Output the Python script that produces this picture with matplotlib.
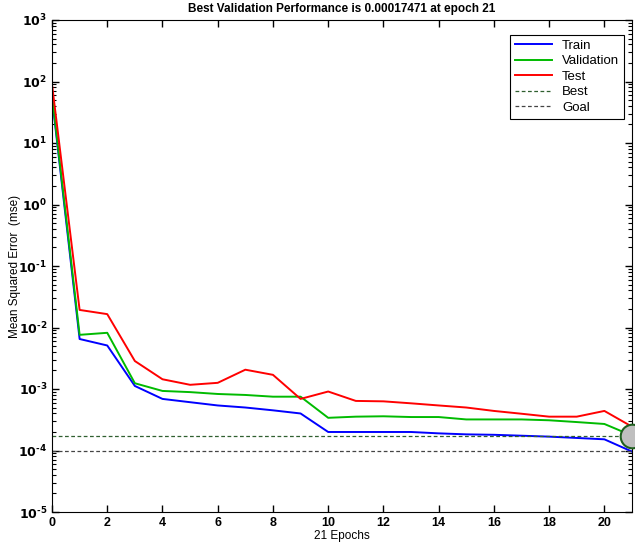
import numpy as np
import matplotlib
matplotlib.use('Agg')
import matplotlib.pyplot as plt
from matplotlib.ticker import LogLocator, NullFormatter, FixedLocator, FuncFormatter

plt.rcParams['font.family'] = ['Liberation Sans', 'DejaVu Sans']

epochs = list(range(22))
train = [55, 6.5e-3, 5.1e-3, 1.12e-3, 6.9e-4, 6.1e-4, 5.4e-4, 5.0e-4, 4.5e-4, 4.0e-4,
         2.0e-4, 2.0e-4, 2.0e-4, 2.0e-4, 1.9e-4, 1.83e-4, 1.8e-4, 1.74e-4, 1.68e-4,
         1.6e-4, 1.52e-4, 9.6e-5]
val = [60, 7.6e-3, 8.2e-3, 1.24e-3, 9.3e-4, 8.9e-4, 8.3e-4, 8.0e-4, 7.5e-4, 7.5e-4,
       3.4e-4, 3.55e-4, 3.6e-4, 3.5e-4, 3.5e-4, 3.2e-4, 3.2e-4, 3.2e-4, 3.1e-4,
       2.9e-4, 2.7e-4, 1.7471e-4]
test = [90, 0.0193, 0.0165, 2.85e-3, 1.44e-3, 1.17e-3, 1.26e-3, 2.06e-3, 1.7e-3, 6.9e-4,
        9.1e-4, 6.4e-4, 6.3e-4, 5.85e-4, 5.4e-4, 5.0e-4, 4.4e-4, 3.96e-4, 3.55e-4,
        3.55e-4, 4.4e-4, 2.44e-4]
best_epoch = 21
best_perf = 0.00017471
goal = 1e-4
y_exps = list(range(-5, 4))

fig = plt.figure(figsize=(6.35, 5.44), dpi=100)
ax = fig.add_axes([52/635, 32/544, 580/635, 492/544])

ax.plot(epochs, train, color='#0000ff', lw=1.4, label='Train')
ax.plot(epochs, val, color='#00bb00', lw=1.4, label='Validation')
ax.plot(epochs, test, color='#ff0000', lw=1.4, label='Test')
ax.axhline(best_perf, color='#2f5f2f', lw=0.9, ls=(0, (3, 2)), label='Best')
ax.axhline(goal, color='#444444', lw=0.9, ls=(0, (3, 2)), label='Goal')
ax.plot([best_epoch], [best_perf], 'o', ms=17, mfc='#bfbfbf', mec='#1f5f1f',
        mew=1.5, clip_on=False, zorder=5)

ax.set_yscale('log')
ax.set_xlim(0, 21)
ax.set_ylim(1e-5, 1e3)
ax.xaxis.set_major_locator(FixedLocator(range(0, 21, 2)))
ax.yaxis.set_major_locator(FixedLocator([10.0**e for e in y_exps]))
ax.yaxis.set_major_formatter(FuncFormatter(
    lambda v, p: r'$\mathbf{10^{%s}}$' % str(int(round(np.log10(v)))).replace('-', '\u2010')))
ax.yaxis.set_minor_locator(LogLocator(base=10, subs=np.arange(2, 10), numticks=20))
ax.yaxis.set_minor_formatter(NullFormatter())
ax.tick_params(which='both', direction='in', top=True, right=True, labelsize=9)
ax.tick_params(which='major', length=5, width=1)
ax.tick_params(which='minor', length=3, width=0.8)
for lbl in ax.get_xticklabels():
    lbl.set_fontweight('bold')

ax.set_title('Best Validation Performance is 0.00017471 at epoch 21',
             fontsize=8.5, fontweight='bold', pad=6)
ax.set_xlabel('21 Epochs', fontsize=8.5, labelpad=1)
ax.set_ylabel('Mean Squared Error  (mse)', fontsize=8.5)
ax.yaxis.set_label_coords(-0.054, 0.5)

leg = ax.legend(loc='upper right', bbox_to_anchor=(0.986, 0.9695), borderaxespad=0,
                fontsize=9.5, frameon=True, fancybox=False, edgecolor='black',
                framealpha=1, handlelength=2.8, labelspacing=0.25, borderpad=0.35)
leg.get_frame().set_linewidth(0.8)

plt.savefig('out.png', dpi=100)
